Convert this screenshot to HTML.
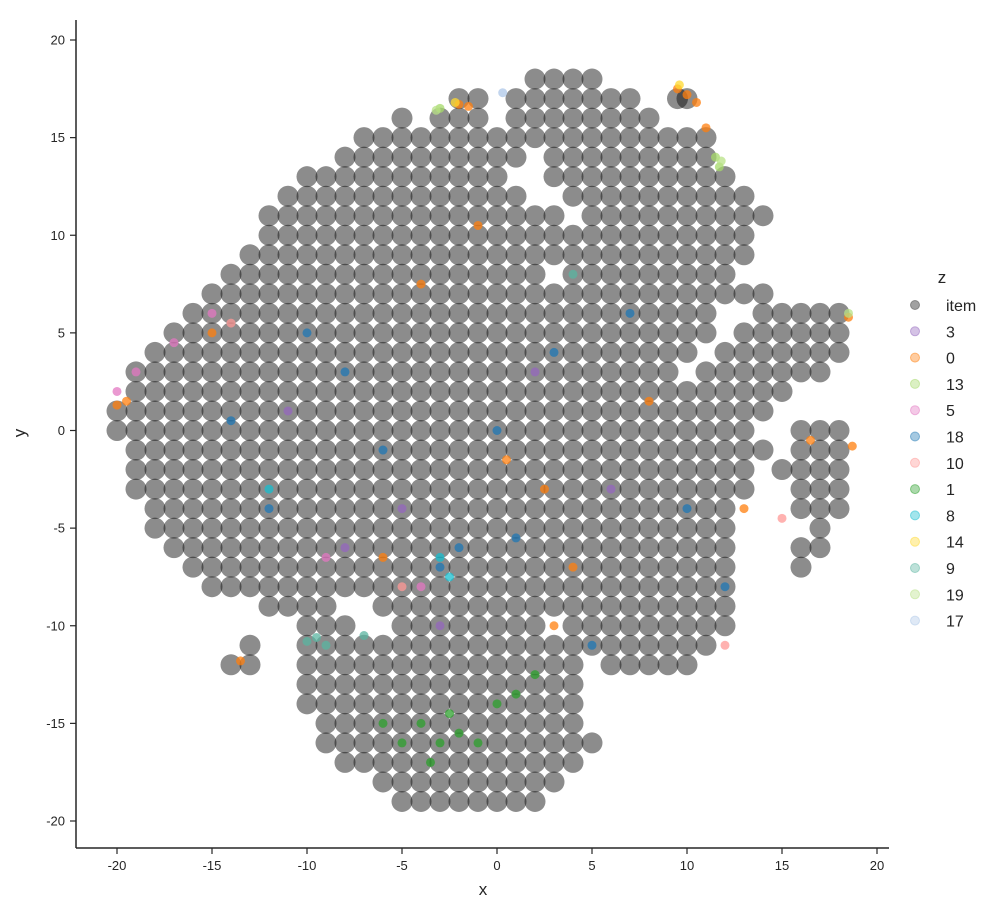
<!DOCTYPE html>
<html><head><meta charset="utf-8"><style>
html,body{margin:0;padding:0;background:#fff;}
svg{display:block;font-family:"Liberation Sans","DejaVu Sans",sans-serif;}
</style></head><body>
<svg id="chart" width="998" height="900" viewBox="0 0 998 900" xmlns="http://www.w3.org/2000/svg">
<g id="plot"></g>
<g id="axes"></g>
<g id="legend"></g>
</svg>
<script>
const xTicks=[-20,-15,-10,-5,0,5,10,15,20];
const yTicks=[-20,-15,-10,-5,0,5,10,15,20];
const rowY=[18,17,16,15,14,13,12,11,10,9,8,7,6,5,4,3,2,1,0,-1,-2,-3,-4,-5,-6,-7,-8,-9,-10,-11,-12,-13,-14,-15,-16,-17,-18,-19];
const rowX=[
[2,3,4,5],
[-2,-1,1,2,3,4,5,6,7,9.5,10],
[-5,-3,-2,-1,1,2,3,4,5,6,7,8],
[-7,-6,-5,-4,-3,-2,-1,0,1,2,3,4,5,6,7,8,9,10,11],
[-8,-7,-6,-5,-4,-3,-2,-1,0,1,3,4,5,6,7,8,9,10,11],
[-10,-9,-8,-7,-6,-5,-4,-3,-2,-1,0,3,4,5,6,7,8,9,10,11,12],
[-11,-10,-9,-8,-7,-6,-5,-4,-3,-2,-1,0,1,4,5,6,7,8,9,10,11,12,13],
[-12,-11,-10,-9,-8,-7,-6,-5,-4,-3,-2,-1,0,1,2,3,5,6,7,8,9,10,11,12,13,14],
[-12,-11,-10,-9,-8,-7,-6,-5,-4,-3,-2,-1,0,1,2,3,4,5,6,7,8,9,10,11,12,13],
[-13,-12,-11,-10,-9,-8,-7,-6,-5,-4,-3,-2,-1,0,1,2,3,4,5,6,7,8,9,10,11,12,13],
[-14,-13,-12,-11,-10,-9,-8,-7,-6,-5,-4,-3,-2,-1,0,1,2,4,5,6,7,8,9,10,11,12],
[-15,-14,-13,-12,-11,-10,-9,-8,-7,-6,-5,-4,-3,-2,-1,0,1,2,3,4,5,6,7,8,9,10,11,12,13,14],
[-16,-15,-14,-13,-12,-11,-10,-9,-8,-7,-6,-5,-4,-3,-2,-1,0,1,2,3,4,5,6,7,8,9,10,11,14,15,16,17,18],
[-17,-16,-15,-14,-13,-12,-11,-10,-9,-8,-7,-6,-5,-4,-3,-2,-1,0,1,2,3,4,5,6,7,8,9,10,11,13,14,15,16,17,18],
[-18,-17,-16,-15,-14,-13,-12,-11,-10,-9,-8,-7,-6,-5,-4,-3,-2,-1,0,1,2,3,4,5,6,7,8,9,10,12,13,14,15,16,17,18],
[-19,-18,-17,-16,-15,-14,-13,-12,-11,-10,-9,-8,-7,-6,-5,-4,-3,-2,-1,0,1,2,3,4,5,6,7,8,9,11,12,13,14,15,16,17],
[-19,-18,-17,-16,-15,-14,-13,-12,-11,-10,-9,-8,-7,-6,-5,-4,-3,-2,-1,0,1,2,3,4,5,6,7,8,9,10,11,12,13,14,15],
[-20,-19,-18,-17,-16,-15,-14,-13,-12,-11,-10,-9,-8,-7,-6,-5,-4,-3,-2,-1,0,1,2,3,4,5,6,7,8,9,10,11,12,13,14],
[-20,-19,-18,-17,-16,-15,-14,-13,-12,-11,-10,-9,-8,-7,-6,-5,-4,-3,-2,-1,0,1,2,3,4,5,6,7,8,9,10,11,12,13,16,17,18],
[-19,-18,-17,-16,-15,-14,-13,-12,-11,-10,-9,-8,-7,-6,-5,-4,-3,-2,-1,0,1,2,3,4,5,6,7,8,9,10,11,12,13,14,16,17,18],
[-19,-18,-17,-16,-15,-14,-13,-12,-11,-10,-9,-8,-7,-6,-5,-4,-3,-2,-1,0,1,2,3,4,5,6,7,8,9,10,11,12,13,15,16,17,18],
[-19,-18,-17,-16,-15,-14,-13,-12,-11,-10,-9,-8,-7,-6,-5,-4,-3,-2,-1,0,1,2,3,4,5,6,7,8,9,10,11,12,13,16,17,18],
[-18,-17,-16,-15,-14,-13,-12,-11,-10,-9,-8,-7,-6,-5,-4,-3,-2,-1,0,1,2,3,4,5,6,7,8,9,10,11,12,16,17,18],
[-18,-17,-16,-15,-14,-13,-12,-11,-10,-9,-8,-7,-6,-5,-4,-3,-2,-1,0,1,2,3,4,5,6,7,8,9,10,11,12,17],
[-17,-16,-15,-14,-13,-12,-11,-10,-9,-8,-7,-6,-5,-4,-3,-2,-1,0,1,2,3,4,5,6,7,8,9,10,11,12,16,17],
[-16,-15,-14,-13,-12,-11,-10,-9,-8,-7,-6,-5,-4,-3,-2,-1,0,1,2,3,4,5,6,7,8,9,10,11,12,16],
[-15,-14,-13,-12,-11,-10,-9,-8,-7,-6,-5,-4,-3,-2,-1,0,1,2,3,4,5,6,7,8,9,10,11,12],
[-12,-11,-10,-9,-6,-5,-4,-3,-2,-1,0,1,2,3,4,5,6,7,8,9,10,11,12],
[-10,-9,-8,-5,-4,-3,-2,-1,0,1,2,4,5,6,7,8,9,10,11,12],
[-13,-10,-9,-8,-7,-6,-5,-4,-3,-2,-1,0,1,2,3,4,5,6,7,8,9,10,11],
[-14,-13,-10,-9,-8,-7,-6,-5,-4,-3,-2,-1,0,1,2,3,4,6,7,8,9,10],
[-10,-9,-8,-7,-6,-5,-4,-3,-2,-1,0,1,2,3,4],
[-10,-9,-8,-7,-6,-5,-4,-3,-2,-1,0,1,2,3,4],
[-9,-8,-7,-6,-5,-4,-3,-2,-1,0,1,2,3,4],
[-9,-8,-7,-6,-5,-4,-3,-2,-1,0,1,2,3,4,5],
[-8,-7,-6,-5,-4,-3,-2,-1,0,1,2,3,4],
[-6,-5,-4,-3,-2,-1,0,1,2,3],
[-5,-4,-3,-2,-1,0,1,2]
];
const groupNames=["item","3","0","13","5","18","10","1","8","14","9","19","17"];
const groupColors=["#444444","#9467bd","#ff7f0e","#a6d96a","#e377c2","#1f77b4","#ff9896","#2ca02c","#17becf","#ffd92f","#5ab4a0","#b8e186","#aec7e8"];
const colX=[
[],
[-8,-5,2,6,-11,-3],
[9.5,10,10.5,-2,-1.5,18.7,18.5,-20,-19.5,16.5,3,-13.5,11,-4,-1,0.5,4,-6,2.5,8,-15,13],
[11.5,11.7,-3],
[-20,-19,-17,-4,-15,-9],
[-14,-6,-3,-2,0,3,-12,5,12,10,-8,1,-10,7],
[-14,15,12,-5],
[-4,-3,-2,0,1,-5,-1,-6,-2.5,2,-3.5],
[-3,-12,-2.5],
[9.6,-2.2],
[-9.5,-10,-7,4,-9],
[18.5,-3.2,11.8],
[0.3]
];
const colY=[
[],
[-6,-4,3,-3,1,-10],
[17.5,17.2,16.8,16.7,16.6,-0.8,5.8,1.3,1.5,-0.5,-10,-11.8,15.5,7.5,10.5,-1.5,-7,-6.5,-3,1.5,5,-4],
[14,13.5,16.5],
[2,3,4.5,-8,6,-6.5],
[0.5,-1,-7,-6,0,4,-4,-11,-8,-4,3,-5.5,5,6],
[5.5,-4.5,-11,-8],
[-15,-16,-15.5,-14,-13.5,-16,-16,-15,-14.5,-12.5,-17],
[-6.5,-3,-7.5],
[17.7,16.8],
[-10.6,-10.8,-10.5,8,-11],
[6,16.4,13.8],
[17.3]
];

const NS="http://www.w3.org/2000/svg";
const X0=76,X1=889,Y0=20,Y1=848;
function sx(v){return 497+v*19;}
function sy(v){return 430.5-v*19.525;}
function mk(tag,attrs,parent){const e=document.createElementNS(NS,tag);for(const k in attrs)e.setAttribute(k,attrs[k]);parent.appendChild(e);return e;}

const plot=document.getElementById('plot');
for(let r=0;r<rowY.length;r++){
  for(let i=0;i<rowX[r].length;i++){
    const c=mk('circle',{cx:sx(rowX[r][i]),cy:sy(rowY[r]),r:10.5,fill:'#000','fill-opacity':0.45},plot);
    
    
  }
}
for(let g=1;g<groupNames.length;g++){
  for(let i=0;i<colX[g].length;i++){
    const c=mk('circle',{cx:sx(colX[g][i]),cy:sy(colY[g][i]),r:4.5,fill:groupColors[g],'fill-opacity':0.75},plot);
    
    
  }
}

const axes=document.getElementById('axes');
const ys=mk('line',{x1:X0,y1:Y0,x2:X0,y2:Y1,stroke:'#262626','stroke-width':1.5},axes);


const xs=mk('line',{x1:X0,y1:Y1,x2:X1,y2:Y1,stroke:'#262626','stroke-width':1.5},axes);


xTicks.forEach(t=>{
  mk('line',{x1:sx(t),y1:Y1,x2:sx(t),y2:Y1+6,stroke:'#262626','stroke-width':1.2},axes);
  const tx=mk('text',{x:sx(t),y:Y1+22,'text-anchor':'middle','font-size':13,fill:'#262626'},axes);
  tx.textContent=t;
  
  
});
yTicks.forEach(t=>{
  mk('line',{x1:X0-6,y1:sy(t),x2:X0,y2:sy(t),stroke:'#262626','stroke-width':1.2},axes);
  const tx=mk('text',{x:X0-11,y:sy(t)+4.5,'text-anchor':'end','font-size':13,fill:'#262626'},axes);
  tx.textContent=t;
  
  
});
const xl=mk('text',{x:483,y:895,'text-anchor':'middle','font-size':17,fill:'#262626'},axes);
xl.textContent='x';


const yl=mk('text',{x:25,y:433,'text-anchor':'middle','font-size':17,fill:'#262626',transform:'rotate(-90 25 433)'},axes);
yl.textContent='y';



const leg=document.getElementById('legend');
const lt=mk('text',{x:942,y:283,'text-anchor':'middle','font-size':17,fill:'#262626'},leg);
lt.textContent='z';


groupNames.forEach((n,i)=>{
  const y=305+i*26.3;
  const g=mk('g',{},leg);
  
  
  mk('circle',{cx:915,cy:y,r:4.5,fill:groupColors[i],'fill-opacity':i===0?0.5:0.4,stroke:groupColors[i],'stroke-opacity':0.5},g);
  const t=mk('text',{x:946,y:y+6,'font-size':16,fill:'#262626'},g);
  t.textContent=n;
});
</script>
</body></html>
